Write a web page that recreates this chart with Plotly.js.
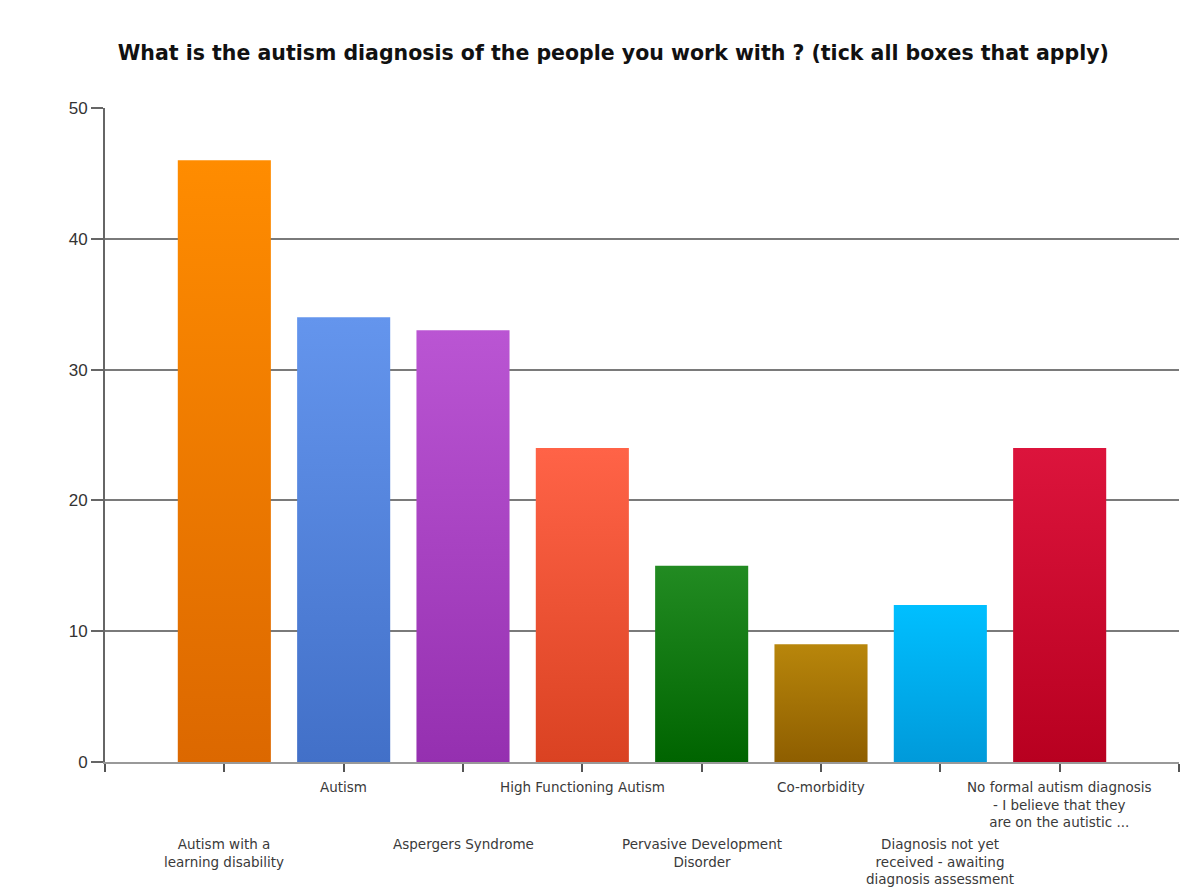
<!DOCTYPE html>
<html>
<head>
<meta charset="utf-8">
<script src="https://cdn.plot.ly/plotly-3.0.1.min.js"></script>
<style>
  html, body { margin: 0; padding: 0; background: #fff; }
  #chart { width: 1184px; height: 888px; }
</style>
</head>
<body>
<div id="chart"></div>
<script>
const categories = [
  "Autism with a learning disability",
  "Autism",
  "Aspergers Syndrome",
  "High Functioning Autism",
  "Pervasive Development Disorder",
  "Co-morbidity",
  "Diagnosis not yet received - awaiting diagnosis assessment",
  "No formal autism diagnosis - I believe that they are on the autistic ..."
];
const tickLabels = [
  "Autism with a<br>learning disability",
  "Autism",
  "Aspergers Syndrome",
  "High Functioning Autism",
  "Pervasive Development<br>Disorder",
  "Co-morbidity",
  "Diagnosis not yet<br>received - awaiting<br>diagnosis assessment",
  "No formal autism diagnosis<br>- I believe that they<br>are on the autistic ..."
];
const values = [46, 34, 33, 24, 15, 9, 12, 24];
const colorsTop    = ["#FF8C00", "#6495ED", "#BA55D3", "#FF6347", "#228B22", "#B8860B", "#00BFFF", "#DC143C"];
const colorsBottom = ["#DC6800", "#4270C8", "#9530B0", "#DA4222", "#006400", "#8E5E00", "#009ADA", "#B80020"];
const colorsMid    = ["#EE7A00", "#5382DA", "#A842C2", "#EC5234", "#117711", "#A37205", "#00ACEC", "#CA0A2E"];

const xIdx = categories.map((c, i) => i);

const trace = {
  type: "bar",
  x: xIdx,
  y: values,
  width: 0.78,
  marker: { color: colorsMid, line: { width: 0 } },
  hoverinfo: "none"
};

const annotations = tickLabels.map((t, i) => ({
  x: i, xref: "x",
  y: 0, yref: "paper",
  yanchor: "top", xanchor: "center",
  yshift: (i % 2 === 0) ? -72 : -15,
  text: t, showarrow: false, align: "center",
  font: { family: "DejaVu Sans", size: 13.5, color: "#3a3a3a" }
}));

const layout = {
  width: 1184, height: 888,
  margin: { l: 105, r: 5, t: 108, b: 126 },
  paper_bgcolor: "#ffffff",
  plot_bgcolor: "#ffffff",
  showlegend: false,
  title: {
    text: "What is the autism diagnosis of the people you work with ? (tick all boxes that apply)",
    font: { family: "DejaVu Sans", size: 20.5, color: "#111", weight: "bold" },
    x: 0.518, xanchor: "center", xref: "container",
    y: 0.941, yanchor: "middle", yref: "container"
  },
  xaxis: {
    range: [-1, 8],
    tickmode: "linear", tick0: -1, dtick: 1,
    showticklabels: false,
    ticks: "outside", ticklen: 8, tickwidth: 2, tickcolor: "#555",
    showgrid: false, zeroline: false,
    showline: true, linecolor: "#999", linewidth: 2,
    fixedrange: true
  },
  yaxis: {
    range: [0, 50],
    tickmode: "linear", tick0: 0, dtick: 10,
    ticks: "outside", ticklen: 12, tickwidth: 2, tickcolor: "#666",
    tickfont: { family: "Liberation Sans", size: 17, color: "#333" },
    showgrid: true, gridcolor: "#7a7a7a", gridwidth: 2,
    zeroline: false,
    showline: true, linecolor: "#666", linewidth: 2,
    fixedrange: true
  },
  annotations: annotations
};

Plotly.newPlot("chart", [trace], layout, { displayModeBar: false, staticPlot: true }).then(gd => {
  const NS = "http://www.w3.org/2000/svg";
  const svg = gd.querySelector("svg.main-svg");
  let defs = svg.querySelector("defs");
  if (!defs) { defs = document.createElementNS(NS, "defs"); svg.insertBefore(defs, svg.firstChild); }
  colorsTop.forEach((c, i) => {
    const g = document.createElementNS(NS, "linearGradient");
    g.setAttribute("id", "bargrad" + i);
    g.setAttribute("x1", "0"); g.setAttribute("y1", "0");
    g.setAttribute("x2", "0"); g.setAttribute("y2", "1");
    const s1 = document.createElementNS(NS, "stop");
    s1.setAttribute("offset", "0"); s1.setAttribute("stop-color", c);
    const s2 = document.createElementNS(NS, "stop");
    s2.setAttribute("offset", "1"); s2.setAttribute("stop-color", colorsBottom[i]);
    g.appendChild(s1); g.appendChild(s2);
    defs.appendChild(g);
  });
  const paths = gd.querySelectorAll(".trace.bars .point path");
  paths.forEach((p, i) => { p.style.fill = "url(#bargrad" + i + ")"; });
});
</script>
</body>
</html>
